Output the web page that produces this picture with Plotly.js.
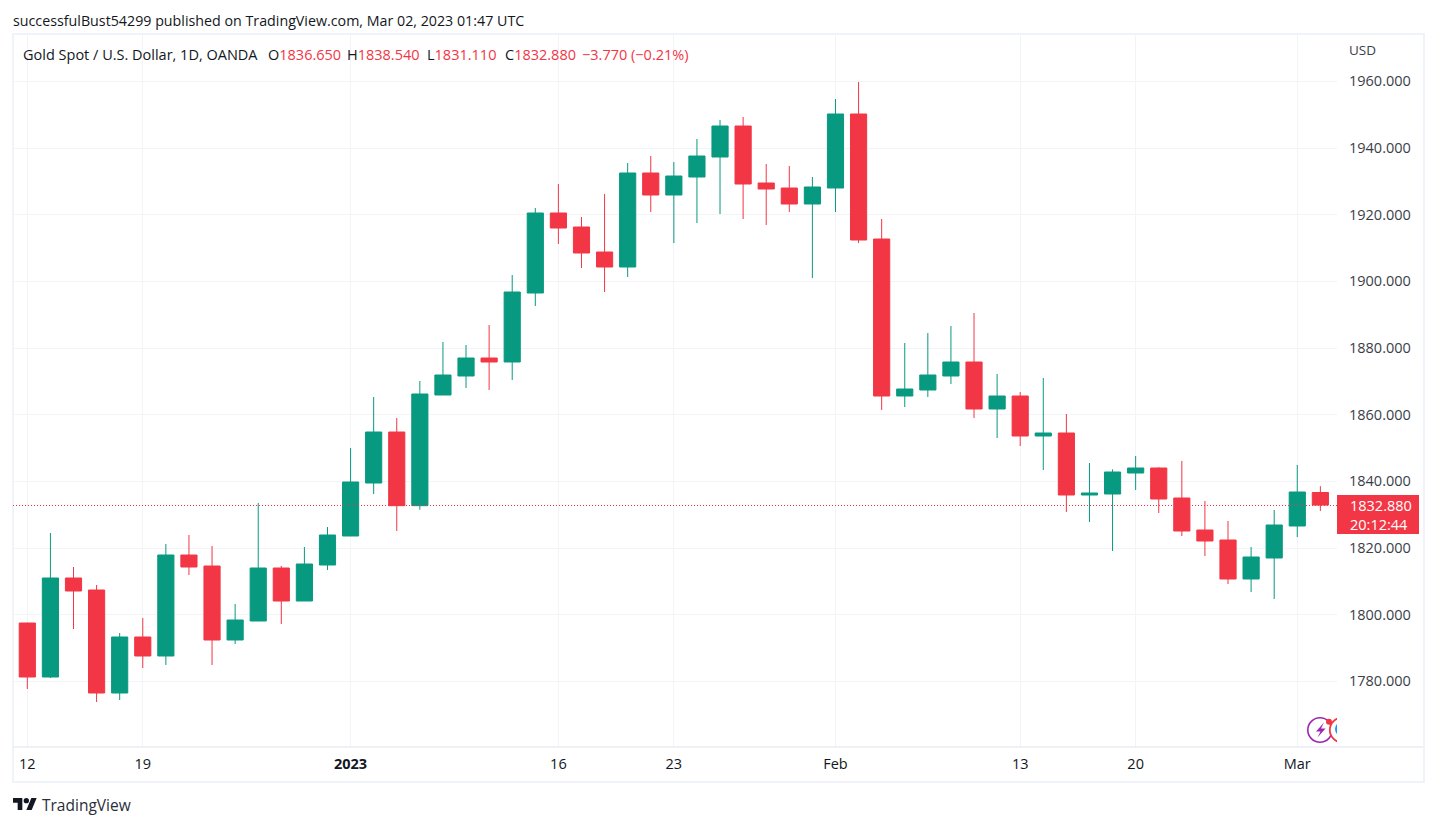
<!DOCTYPE html>
<html>
<head>
<meta charset="utf-8">
<script src="https://cdn.plot.ly/plotly-3.0.1.min.js"></script>
<style>
html,body{margin:0;padding:0;background:#fff;overflow:hidden}
#chart{width:1437px;height:826px}
#chart .boxes path{stroke-linejoin:miter !important}
</style>
</head>
<body>
<div id="chart"></div>
<script>
const dates = ["2022-12-12","2022-12-13","2022-12-14","2022-12-15","2022-12-16",
"2022-12-19","2022-12-20","2022-12-21","2022-12-22","2022-12-23",
"2022-12-27","2022-12-28","2022-12-29","2022-12-30",
"2023-01-03","2023-01-04","2023-01-05","2023-01-06",
"2023-01-09","2023-01-10","2023-01-11","2023-01-12","2023-01-13",
"2023-01-16","2023-01-17","2023-01-18","2023-01-19","2023-01-20",
"2023-01-23","2023-01-24","2023-01-25","2023-01-26","2023-01-27",
"2023-01-30","2023-01-31","2023-02-01","2023-02-02","2023-02-03",
"2023-02-06","2023-02-07","2023-02-08","2023-02-09","2023-02-10",
"2023-02-13","2023-02-14","2023-02-15","2023-02-16","2023-02-17",
"2023-02-20","2023-02-21","2023-02-22","2023-02-23","2023-02-24",
"2023-02-27","2023-02-28","2023-03-01","2023-03-02"];
const opens = [1797.5,1781.3,1811.0,1807.4,1776.5,1793.3,1787.6,1817.9,1814.6,1792.4,
1798.1,1814.0,1804.1,1814.9,1823.6,1839.5,1854.8,1832.7,1865.9,1871.6,
1877.0,1875.8,1896.5,1920.5,1916.3,1908.8,1904.3,1932.5,1925.9,1931.3,
1937.3,1946.6,1929.5,1928.0,1923.2,1928.0,1950.2,1912.7,1865.6,1867.4,
1871.6,1875.8,1861.7,1865.6,1853.6,1854.5,1835.9,1836.2,1842.5,1844.0,
1835.0,1825.4,1822.4,1810.7,1817.0,1826.6,1836.65];
const highs = [1797.6,1824.5,1814.3,1808.9,1794.5,1799.0,1821.2,1823.9,1820.6,1803.2,
1833.5,1814.6,1820.3,1826.3,1850.0,1865.3,1859.0,1870.1,1881.8,1880.9,
1886.9,1901.9,1922.0,1929.2,1919.3,1926.2,1935.5,1937.6,1935.8,1942.7,
1948.4,1949.3,1935.2,1934.6,1931.3,1954.7,1959.8,1918.7,1881.5,1884.5,
1886.6,1890.5,1872.2,1866.8,1871.0,1860.2,1845.5,1843.6,1847.6,1844.2,
1846.1,1834.1,1828.1,1820.3,1831.4,1844.9,1838.54];
const lows = [1777.7,1781.0,1795.7,1773.8,1774.4,1784.0,1784.9,1811.9,1784.9,1791.2,
1798.1,1797.2,1804.1,1813.4,1823.6,1836.2,1825.1,1831.5,1865.9,1868.0,
1867.4,1870.4,1892.6,1911.2,1904.0,1896.8,1901.3,1920.8,1911.5,1917.5,
1920.2,1918.7,1916.9,1920.8,1901.0,1920.8,1911.5,1861.4,1862.3,1865.3,
1869.2,1859.0,1853.0,1850.6,1843.4,1830.8,1827.8,1819.1,1837.4,1830.5,
1823.6,1817.6,1809.2,1806.8,1804.7,1823.3,1831.11];
const closes = [1781.3,1811.0,1807.1,1776.5,1793.3,1787.6,1817.9,1814.3,1792.4,1798.4,
1814.0,1804.1,1815.2,1823.9,1839.8,1854.8,1832.7,1866.2,1871.9,1877.0,
1875.8,1896.8,1920.5,1916.0,1908.5,1904.3,1932.5,1925.9,1931.6,1937.6,
1946.6,1929.2,1927.7,1923.2,1928.3,1950.2,1912.4,1865.6,1867.7,1871.9,
1875.8,1861.7,1865.6,1853.6,1854.5,1835.9,1836.5,1842.8,1844.0,1834.7,
1825.1,1822.1,1810.7,1817.3,1826.9,1836.8,1832.88];
const xTickDates = ["2022-12-12","2022-12-19","2023-01-03","2023-01-16","2023-01-23","2023-02-01","2023-02-13","2023-02-20","2023-03-01"];
const xTickLabels = ["12","19","<b>2023</b>","16","23","Feb","13","20","Mar"];
const lastPrice = 1832.88;

const UP="#089981", DOWN="#F23645", GRID="#f3f4f8", FRAME="#f0f3fa", AXISLINE="#e0e3eb", TEXT="#131722";
const FONT='"Open Sans", "Noto Sans", sans-serif';
// plot-area frame in page pixels
const L=13,T=35,W=1324,H=712;
const px=v=>(v-L)/W, py=v=>1-(v-T)/H;

function svgURI(s){return "data:image/svg+xml;utf8,"+encodeURIComponent(s);}
const logo=svgURI('<svg xmlns="http://www.w3.org/2000/svg" width="24" height="12" viewBox="0 7 36 18" preserveAspectRatio="none"><path fill="#131722" d="M14 25H7V14H0V7h14v18zM28 25h-8l7.5-18h8L28 25z"/><circle fill="#131722" cx="20" cy="11" r="4"/></svg>');
const icon=svgURI('<svg xmlns="http://www.w3.org/2000/svg" width="32" height="30" viewBox="0 0 32 30"><circle cx="15" cy="15" r="12.2" fill="#fff" stroke="#9c27b0" stroke-width="1.6"/><path d="M19 7.5 11 16.5h4.5l-3 6 8-9h-4.5z" fill="#9c27b0"/><circle cx="37" cy="15" r="12.2" fill="#fff" stroke="#f23645" stroke-width="1.8"/><circle cx="37" cy="14" r="7" fill="#2196f3"/><circle cx="24" cy="6.7" r="3" fill="#f23645"/></svg>');

function ann(text,xp,yp,size,color,anchor,extra){
  return Object.assign({text,xref:'paper',yref:'paper',x:px(xp),y:py(yp),showarrow:false,xanchor:anchor||'left',yanchor:'middle',
    align:anchor||'left',font:{family:FONT,size,color},borderpad:0,borderwidth:0},extra||{});
}
const red=s=>'<span style="color:'+DOWN+'">'+s+'</span>';

const trace={
  type:'candlestick',x:dates,open:opens,high:highs,low:lows,close:closes,
  increasing:{line:{color:UP,width:1},fillcolor:UP},
  decreasing:{line:{color:DOWN,width:1},fillcolor:DOWN},
  whiskerwidth:0,hoverinfo:'none',showlegend:false
};
const layout={
  width:1437,height:826,
  margin:{l:L,r:1437-L-W,t:T,b:826-T-H,pad:0},
  paper_bgcolor:'#fff',plot_bgcolor:'#fff',
  showlegend:false,boxmode:'group',boxgap:0.3,boxgroupgap:0,hovermode:false,dragmode:false,
  font:{family:FONT,size:13,color:TEXT},
  xaxis:{type:'category',categoryorder:'array',categoryarray:dates,
    range:[-0.62,56.72],rangeslider:{visible:false},
    tickmode:'array',tickvals:xTickDates,ticktext:xTickLabels,
    showgrid:true,gridcolor:GRID,gridwidth:1,zeroline:false,showline:false,ticks:'',
    tickfont:{family:FONT,size:14.5,color:TEXT},tickangle:0,ticklabelstandoff:6},
  yaxis:{side:'right',range:[1760.3,1973.9],tickmode:'linear',tick0:1780,dtick:20,tickformat:'.3f',
    showgrid:true,gridcolor:GRID,gridwidth:1,zeroline:false,showline:false,ticks:'',
    tickfont:{family:FONT,size:14.5,color:'#3b3e48'},ticklabelstandoff:11,automargin:false},
  shapes:[
    {type:'rect',xref:'paper',yref:'paper',x0:px(13),x1:px(1424),y0:py(34),y1:py(782),line:{color:FRAME,width:2},fillcolor:'rgba(0,0,0,0)',layer:'below'},
    {type:'line',xref:'paper',yref:'paper',x0:px(13),x1:px(1423),y0:py(747),y1:py(747),line:{color:AXISLINE,width:1}},
    {type:'line',xref:'paper',yref:'y',x0:0,x1:1,ysizemode:'pixel',yanchor:lastPrice,y0:-0.44,y1:-0.44,line:{color:DOWN,width:1,dash:'1px,2px'}},
    {type:'rect',xref:'paper',yref:'paper',x0:px(1337),x1:px(1419),y0:py(495),y1:py(534),line:{width:0},fillcolor:DOWN}
  ],
  images:[
    {source:logo,xref:'paper',yref:'paper',x:px(13),y:py(798),sizex:24/W,sizey:12/H,sizing:'stretch',xanchor:'left',yanchor:'top',layer:'above'},
    {source:icon,xref:'paper',yref:'paper',x:px(1305),y:py(715),sizex:32/W,sizey:30/H,sizing:'stretch',xanchor:'left',yanchor:'top',layer:'above'}
  ],
  annotations:[
    ann('successfulBust54299 published on TradingView.com, Mar 02, 2023 01:47 UTC',13,20,14.25,TEXT),
    ann('Gold Spot / U.S. Dollar, 1D, OANDA',23,54,14.5,TEXT),
    ann('O'+red('1836.650'),268,54,14.5,TEXT),
    ann('H'+red('1838.540'),347,54,14.5,TEXT),
    ann('L'+red('1831.110'),427,54,14.5,TEXT),
    ann('C'+red('1832.880'),505,54,14.5,TEXT),
    ann(red('−3.770 (−0.21%)'),582,54,14.5,TEXT),
    ann('USD',1349,50,13.5,'#3b3e48'),
    ann('1832.880',1350,505.5,14.5,'#fff'),
    ann('20:12:44',1350,524,14.5,'#fff'),
    ann('TradingView',42,804.5,15.5,'#2a2e39')
  ]
};
Plotly.newPlot('chart',[trace],layout,{staticPlot:true,displayModeBar:false});
</script>
</body>
</html>
